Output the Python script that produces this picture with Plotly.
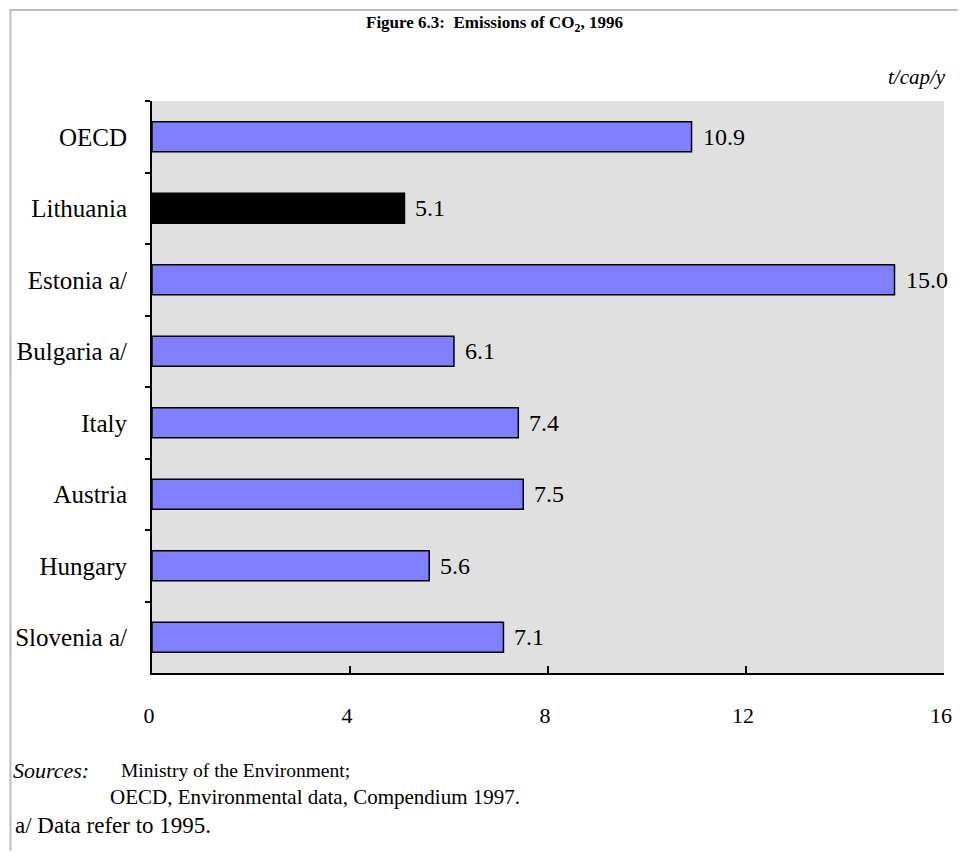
import plotly.graph_objects as go

categories = ["OECD", "Lithuania", "Estonia a/", "Bulgaria a/", "Italy", "Austria", "Hungary", "Slovenia a/"]
values = [10.9, 5.1, 15.0, 6.1, 7.4, 7.5, 5.6, 7.1]
bar_colors = ["#8080ff", "#000000", "#8080ff", "#8080ff", "#8080ff", "#8080ff", "#8080ff", "#8080ff"]
x_ticks = [0, 4, 8, 12, 16]

OFF = 8  # browser body margin
W, H = 967 - 2 * OFF, 859 - 2 * OFF
L, R, T, B = 144, 7, 93, 178
pw, ph = W - L - R, H - T - B

def px(x):  # page pixel -> paper
    return (x - OFF - L) / pw

def py(y):
    return (H - B - (y - OFF)) / ph

FONT = "Liberation Serif"

fig = go.Figure()
fig.add_trace(go.Bar(
    y=categories, x=values, orientation="h",
    marker=dict(color=bar_colors, line=dict(color="black", width=1.5)),
    width=0.42,
    hoverinfo="skip",
))

for c, v in zip(categories, values):
    fig.add_annotation(x=v, y=c, xref="x", yref="y", text=f"{v:.1f}",
                       showarrow=False, xanchor="left", yanchor="middle", xshift=9,
                       font=dict(family=FONT, size=24, color="black"))

annots = [
    dict(x=px(498), y=py(24), text="<b>Figure 6.3:  Emissions of CO<sub>2</sub>, 1996</b>",
         xanchor="center", yanchor="middle", font=dict(family=FONT, size=17, color="black")),
    dict(x=px(956), y=py(77), text="<i>t/cap/y</i>",
         xanchor="right", yanchor="middle", font=dict(family=FONT, size=21, color="black")),
    dict(x=px(10), y=py(770), text="<i>Sources:</i>",
         xanchor="left", yanchor="middle", font=dict(family=FONT, size=22, color="black")),
    dict(x=px(119), y=py(770), text="Ministry of the Environment;",
         xanchor="left", yanchor="middle", font=dict(family=FONT, size=19.5, color="black")),
    dict(x=px(108), y=py(797), text="OECD, Environmental data, Compendium 1997.",
         xanchor="left", yanchor="middle", font=dict(family=FONT, size=21, color="black")),
    dict(x=px(12), y=py(825), text="a/ Data refer to 1995.",
         xanchor="left", yanchor="middle", font=dict(family=FONT, size=23, color="black")),
]
for a in annots:
    fig.add_annotation(xref="paper", yref="paper", showarrow=False, **a)

border = "#bdbdbd"
fig.add_shape(type="line", xref="paper", yref="paper", x0=px(8), x1=px(966), y0=py(10), y1=py(10),
              line=dict(color=border, width=2))
fig.add_shape(type="line", xref="paper", yref="paper", x0=px(9), x1=px(9), y0=py(9), y1=py(851),
              line=dict(color=border, width=2))

fig.update_layout(
    width=W, height=H,
    margin=dict(l=L, r=R, t=T, b=B, pad=0),
    paper_bgcolor="white", plot_bgcolor="#e0e0e0",
    showlegend=False,
    font=dict(family=FONT, size=25, color="black"),
    bargap=0.58,
)
fig.update_xaxes(
    range=[0, 16], tickvals=x_ticks, ticktext=[str(t) for t in x_ticks],
    showgrid=False, zeroline=False, showline=True, linecolor="black", linewidth=2,
    ticks="inside", ticklen=7, tickwidth=2, tickcolor="black",
    ticklabelstandoff=22, ticklabelshift=-3, tickfont=dict(family=FONT, size=22),
    ticklabeloverflow="allow",
    fixedrange=True,
)
fig.update_yaxes(
    categoryorder="array", categoryarray=categories, autorange="reversed",
    tickson="boundaries", showgrid=False, zeroline=False,
    showline=True, linecolor="black", linewidth=2,
    ticks="outside", ticklen=5, tickwidth=2, tickcolor="black",
    ticklabelstandoff=18, tickfont=dict(family=FONT, size=25),
    fixedrange=True,
)

fig.write_html("out.html", config={"displayModeBar": False})
